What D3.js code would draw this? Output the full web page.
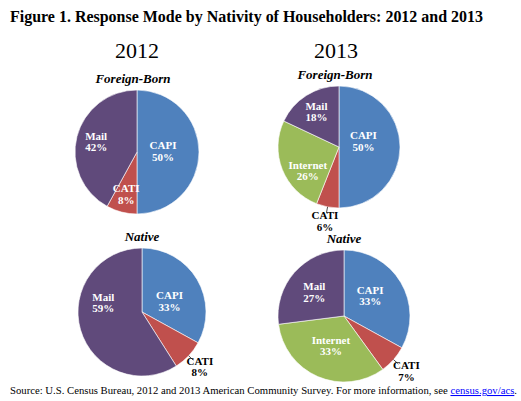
<!DOCTYPE html>
<html>
<head>
<meta charset="utf-8">
<script src="https://cdn.jsdelivr.net/npm/d3@7"></script>
<style>
  body { margin: 0; background: #fff; }
  svg { display: block; }
  text { font-family: "Liberation Serif", "Times New Roman", serif; }
</style>
</head>
<body>
<svg id="chart" width="521" height="401"></svg>
<script>
// data
const years = ["2012", "2013"];
const groups = ["Foreign-Born", "Native"];
const modes = ["CAPI", "CATI", "Internet", "Mail"];
const foreign2012 = [50, 8, 0, 42];
const foreign2013 = [50, 6, 26, 18];
const native2012 = [33, 8, 0, 59];
const native2013 = [33, 7, 33, 27];

const colorOf = {CAPI: "#4f81bd", CATI: "#c0504d", Internet: "#9bbb59", Mail: "#604a7b"};

// where each pie sits and how its labels are placed (k = fraction of radius, outside = black with leader)
const pies = [
  {year: "2012", group: "Foreign-Born", values: foreign2012, cx: 137, cy: 152, r: 62,
   labels: {CAPI: {k: 0.42, dy: -1}, CATI: {k: 0.7, dy: 0}, Mail: {k: 0.68, dy: 0}}},
  {year: "2013", group: "Foreign-Born", values: foreign2013, cx: 339, cy: 147, r: 61,
   labels: {CAPI: {k: 0.4, dy: -6}, CATI: {k: 1.23, dy: 0, outside: true},
            Internet: {k: 0.55, dx: 0, dy: 11}, Mail: {k: 0.69, dy: 0}}},
  {year: "2012", group: "Native", values: native2012, cx: 142, cy: 312, r: 64,
   labels: {CAPI: {k: 0.5, dy: 5}, CATI: {k: 1.24, dy: 0, outside: true}, Mail: {k: 0.63, dx: 0, dy: -21}}},
  {year: "2013", group: "Native", values: native2013, cx: 344, cy: 316, r: 66,
   labels: {CAPI: {k: 0.46, dy: -5}, CATI: {k: 1.26, dy: 0, outside: true},
            Internet: {k: 0.5, dy: -1}, Mail: {k: 0.6, dy: 2}}}
];

const svg = d3.select("#chart");

svg.append("text")
  .attr("x", 10).attr("y", 22)
  .attr("font-size", 16).attr("font-weight", "bold")
  .attr("textLength", 473).attr("lengthAdjust", "spacingAndGlyphs")
  .text("Figure 1. Response Mode by Nativity of Householders: 2012 and 2013");

const yearX = {"2012": 137, "2013": 336};
years.forEach(y => {
  svg.append("text")
    .attr("x", yearX[y]).attr("y", 58)
    .attr("text-anchor", "middle")
    .attr("font-size", 22)
    .text(y);
});

const pie = d3.pie().sort(null).value(d => d.value);

pies.forEach(p => {
  const data = modes.map((m, i) => ({mode: m, value: p.values[i]})).filter(d => d.value > 0);
  const arcs = pie(data);
  const arc = d3.arc().innerRadius(0).outerRadius(p.r);
  const g = svg.append("g").attr("transform", `translate(${p.cx},${p.cy})`);

  g.append("text")
    .attr("x", p.group == "Native" ? 0 : -4)
    .attr("y", -p.r - 7)
    .attr("text-anchor", "middle")
    .attr("font-size", 13).attr("font-weight", "bold").attr("font-style", "italic")
    .text(p.group);

  g.selectAll("path")
    .data(arcs)
    .join("path")
    .attr("d", arc)
    .attr("fill", d => colorOf[d.data.mode])
    .attr("stroke", "#fff")
    .attr("stroke-width", 0.6);

  arcs.forEach(a => {
    const lay = p.labels[a.data.mode];
    const mid = (a.startAngle + a.endAngle) / 2;
    const ux = Math.sin(mid), uy = -Math.cos(mid);
    const x = ux * p.r * lay.k + (lay.dx || 0);
    const y = uy * p.r * lay.k + (lay.dy || 0);

    if (lay.outside) {
      g.append("line")
        .attr("x1", ux * p.r).attr("y1", uy * p.r)
        .attr("x2", ux * p.r * 1.1).attr("y2", uy * p.r * 1.1)
        .attr("stroke", "#000").attr("stroke-width", 0.7);
    }

    const t = g.append("text")
      .attr("x", x).attr("y", y)
      .attr("text-anchor", "middle")
      .attr("font-size", 11).attr("font-weight", "bold")
      .attr("fill", lay.outside ? "#000" : "#fff");
    t.append("tspan").attr("x", x).attr("dy", "-0.15em").text(a.data.mode);
    t.append("tspan").attr("x", x).attr("dy", "1.05em").text(a.data.value + "%");
  });
});

const src = svg.append("text")
  .attr("x", 10).attr("y", 394)
  .attr("font-size", 10.5)
  .attr("textLength", 507).attr("lengthAdjust", "spacingAndGlyphs");
src.append("tspan").text("Source: U.S. Census Bureau, 2012 and 2013 American Community Survey. For more information, see ");
src.append("tspan").attr("fill", "#0000ff").attr("text-decoration", "underline").text("census.gov/acs");
src.append("tspan").text(".");
</script>
</body>
</html>
